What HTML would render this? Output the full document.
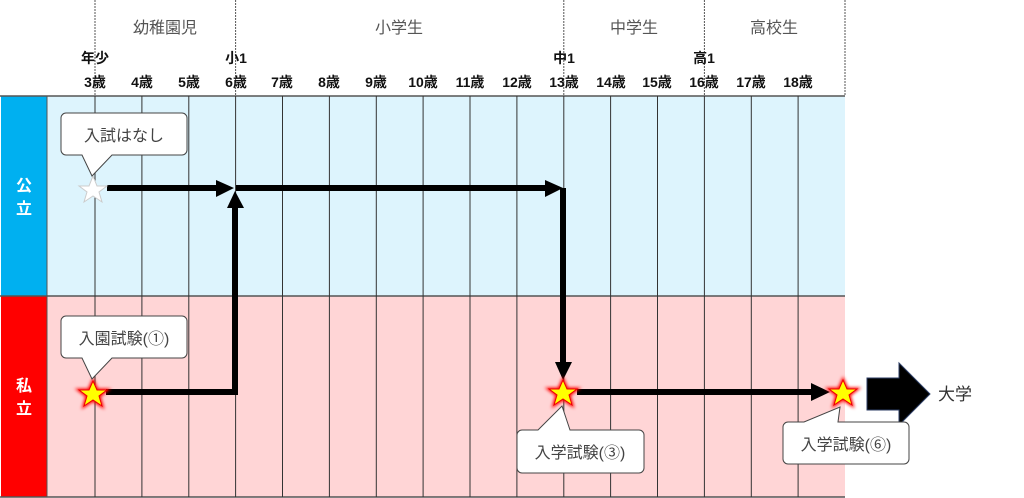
<!DOCTYPE html>
<html><head><meta charset="utf-8"><style>
html,body{margin:0;padding:0;background:#fff;}
svg{display:block;font-family:"Liberation Sans","Noto Sans CJK JP",sans-serif;}
</style></head><body>
<svg width="1024" height="498" viewBox="0 0 1024 498" xmlns="http://www.w3.org/2000/svg">
<defs>
<filter id="glow" x="-50%" y="-50%" width="200%" height="200%"><feGaussianBlur stdDeviation="1.5"/></filter>
</defs>
<rect x="47" y="96" width="798" height="200" fill="#ddf4fd"/>
<rect x="47" y="296" width="798" height="201" fill="#ffd5d6"/>
<rect x="1" y="96" width="46" height="200" fill="#00b0f0"/>
<rect x="1" y="296" width="46" height="201" fill="#ff0000"/>
<line x1="0" y1="96" x2="845" y2="96" stroke="#555" stroke-width="1.5"/>
<line x1="0" y1="296" x2="845" y2="296" stroke="#555" stroke-width="1.5"/>
<line x1="0" y1="497" x2="845" y2="497" stroke="#555" stroke-width="1.5"/>
<line x1="47" y1="96" x2="47" y2="497" stroke="#555" stroke-width="1"/>
<g stroke="#333" stroke-width="1">
<line x1="95" y1="96" x2="95" y2="497"/><line x1="141.9" y1="96" x2="141.9" y2="497"/>
<line x1="188.8" y1="96" x2="188.8" y2="497"/><line x1="235.6" y1="96" x2="235.6" y2="497"/>
<line x1="282.5" y1="96" x2="282.5" y2="497"/><line x1="329.4" y1="96" x2="329.4" y2="497"/>
<line x1="376.3" y1="96" x2="376.3" y2="497"/><line x1="423.1" y1="96" x2="423.1" y2="497"/>
<line x1="470" y1="96" x2="470" y2="497"/><line x1="516.9" y1="96" x2="516.9" y2="497"/>
<line x1="563.8" y1="96" x2="563.8" y2="497"/><line x1="610.6" y1="96" x2="610.6" y2="497"/>
<line x1="657.5" y1="96" x2="657.5" y2="497"/><line x1="704.4" y1="96" x2="704.4" y2="497"/>
<line x1="751.3" y1="96" x2="751.3" y2="497"/><line x1="798.1" y1="96" x2="798.1" y2="497"/>
</g>
<g stroke="#555" stroke-width="1" stroke-dasharray="2,1">
<line x1="95" y1="0" x2="95" y2="96"/><line x1="235.6" y1="0" x2="235.6" y2="96"/>
<line x1="563.8" y1="0" x2="563.8" y2="96"/><line x1="704.4" y1="0" x2="704.4" y2="96"/>
<line x1="845" y1="0" x2="845" y2="96"/>
</g>
<g fill="#555" font-size="16" text-anchor="middle">
<text x="165" y="33">幼稚園児</text><text x="399" y="33">小学生</text>
<text x="634" y="33">中学生</text><text x="774" y="33">高校生</text>
</g>
<g fill="#111" font-size="14" font-weight="bold" text-anchor="middle">
<text x="95" y="63">年少</text><text x="236" y="63">小1</text><text x="564" y="63">中1</text><text x="704" y="63">高1</text>
<text x="95" y="87">3歳</text><text x="142" y="87">4歳</text><text x="189" y="87">5歳</text><text x="236" y="87">6歳</text>
<text x="282" y="87">7歳</text><text x="329" y="87">8歳</text><text x="376" y="87">9歳</text><text x="423" y="87">10歳</text>
<text x="470" y="87">11歳</text><text x="517" y="87">12歳</text><text x="564" y="87">13歳</text><text x="611" y="87">14歳</text>
<text x="657" y="87">15歳</text><text x="704" y="87">16歳</text><text x="751" y="87">17歳</text><text x="798" y="87">18歳</text>
</g>
<g fill="#fff" font-size="16" font-weight="bold" text-anchor="middle">
<text x="24" y="191">公</text><text x="24" y="214">立</text>
<text x="24" y="391">私</text><text x="24" y="414">立</text>
</g>
<g stroke="#000" stroke-width="6" fill="none">
<polyline points="107,188 218,188"/>
<polyline points="236,188 548,188"/>
<polyline points="563,188 563,362"/>
<polyline points="106,392 235,392 235,208"/>
<polyline points="577,392 814,392"/>
</g>
<g fill="#000">
<polygon points="216,180 234,188 216,197"/>
<polygon points="545,180 563,188 545,197"/>
<polygon points="555,362 572,362 563,380"/>
<polygon points="227,208 244,208 235,191"/>
<polygon points="811,383 830,392 811,401"/>
<polygon points="867,378 899,378 899,363 930,394 899,425 899,410 867,410" stroke="#2c3e66" stroke-width="1"/>
</g>
<text x="938" y="400" font-size="17" fill="#333">大学</text>
<polygon points="93,176 97,186 107,186 99,192 102,202 93,196 84,202 87,192 79,186 89,186" fill="#fff" stroke="#ccc" stroke-width="1"/>
<g>
<polygon points="93,381 97,390 107,390 99,396 102,406 93,400 84,406 87,396 79,390 89,390" fill="red" filter="url(#glow)" stroke="red" stroke-width="3"/>
<polygon points="93,381 97,390 107,390 99,396 102,406 93,400 84,406 87,396 79,390 89,390" fill="#ffff00" stroke="#e00" stroke-width="1"/>
<polygon points="563,380 567,389 577,389 569,395 572,405 563,399 554,405 557,395 549,389 559,389" fill="red" filter="url(#glow)" stroke="red" stroke-width="3"/>
<polygon points="563,380 567,389 577,389 569,395 572,405 563,399 554,405 557,395 549,389 559,389" fill="#ffff00" stroke="#e00" stroke-width="1"/>
<polygon points="843,380 847,389 857,389 849,395 852,405 843,399 834,405 837,395 829,389 839,389" fill="red" filter="url(#glow)" stroke="red" stroke-width="3"/>
<polygon points="843,380 847,389 857,389 849,395 852,405 843,399 834,405 837,395 829,389 839,389" fill="#ffff00" stroke="#e00" stroke-width="1"/>
</g>
<g fill="#fff" stroke="#444" stroke-width="1">
<path d="M66,113 H182 a5,5 0 0 1 5,5 V150 a5,5 0 0 1 -5,5 H112 L92,176 L82,155 H66 a5,5 0 0 1 -5,-5 V118 a5,5 0 0 1 5,-5 Z"/>
<path d="M66,316 H182 a5,5 0 0 1 5,5 V353 a5,5 0 0 1 -5,5 H112 L92,379 L82,358 H66 a5,5 0 0 1 -5,-5 V321 a5,5 0 0 1 5,-5 Z"/>
<path d="M522,430 H538 L562,406 L570,430 H639 a5,5 0 0 1 5,5 V468 a5,5 0 0 1 -5,5 H522 a5,5 0 0 1 -5,-5 V435 a5,5 0 0 1 5,-5 Z"/>
<path d="M788,422 H804 L840,407 L838,422 H904 a5,5 0 0 1 5,5 V459 a5,5 0 0 1 -5,5 H788 a5,5 0 0 1 -5,-5 V427 a5,5 0 0 1 5,-5 Z"/>
</g>
<g fill="#444" font-size="16" text-anchor="middle">
<text x="124" y="141">入試はなし</text>
<text x="124" y="344">入園試験(①)</text>
<text x="580" y="458">入学試験(③)</text>
<text x="846" y="450">入学試験(⑥)</text>
</g>
</svg>
</body></html>
